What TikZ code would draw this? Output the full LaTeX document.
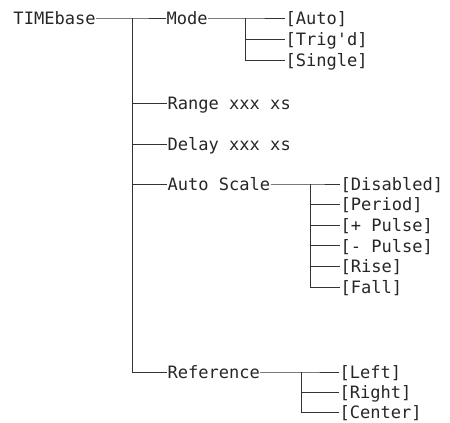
\documentclass[tikz,border=0pt]{standalone}
\usepackage{fontspec}
\setmonofont{DejaVu Sans Mono}

\tikzset{every picture/.style={line width=0.75pt}}
\tikzset{
  menu/.style={anchor=west,inner sep=0pt,text height=9.3pt,text depth=0pt,font=\ttfamily\fontsize{12.8}{14}\selectfont,text=black!85},
  link/.style={draw=black!80,line width=0.7pt}
}

\begin{document}
\begin{tikzpicture}[x=0.75pt,y=0.75pt,yscale=-1,xscale=1]
\useasboundingbox (0,0) rectangle (450,422);

% Text Node
\node [menu] (timebase) at (13,18) {TIMEbase};
% Text Node
\node [menu] (mode) at (166,18) {Mode};
% Text Node
\node [menu] (range) at (167,103) {Range xxx xs};
% Text Node
\node [menu] (delay) at (167,144) {Delay xxx xs};
% Text Node
\node [menu] (autoscale) at (167,184) {Auto Scale};
% Text Node
\node [menu] (reference) at (167,372) {Reference};

% Mode choices
\node [menu] (auto) at (285,18) {[Auto]};
\node [menu] (trigd) at (285,39) {[Trig\textquotesingle d]};
\node [menu] (single) at (285,60) {[Single]};

% Auto Scale choices
\node [menu] (disabled) at (340,184) {[Disabled]};
\node [menu] (period) at (340,204.6) {[Period]};
\node [menu] (pluspulse) at (340,225.2) {[+ Pulse]};
\node [menu] (minuspulse) at (340,245.8) {[- Pulse]};
\node [menu] (rise) at (340,266.4) {[Rise]};
\node [menu] (fall) at (340,287) {[Fall]};

% Reference choices
\node [menu] (left) at (339,372) {[Left]};
\node [menu] (right) at (339,392) {[Right]};
\node [menu] (center) at (339,412) {[Center]};

% Junctions
\coordinate (trunk) at (132,18);
\coordinate (modej) at (245,18);
\coordinate (scalej) at (310,184);
\coordinate (refj) at (301,372);

% Trunk
\draw [link] (timebase.east) -- (trunk) -- (mode.west);
\draw [link] (trunk) |- (range.west);
\draw [link] (trunk) |- (delay.west);
\draw [link] (trunk) |- (autoscale.west);
\draw [link] (trunk) |- (reference.west);

% Mode branch
\draw [link] (mode.east) -- (modej) -- (auto.west);
\draw [link] (modej) |- (trigd.west);
\draw [link] (modej) |- (single.west);

% Auto Scale branch
\draw [link] (autoscale.east) -- (scalej) -- (disabled.west);
\draw [link] (scalej) |- (period.west);
\draw [link] (scalej) |- (pluspulse.west);
\draw [link] (scalej) |- (minuspulse.west);
\draw [link] (scalej) |- (rise.west);
\draw [link] (scalej) |- (fall.west);

% Reference branch
\draw [link] (reference.east) -- (refj) -- (left.west);
\draw [link] (refj) |- (right.west);
\draw [link] (refj) |- (center.west);

\end{tikzpicture}
\end{document}
